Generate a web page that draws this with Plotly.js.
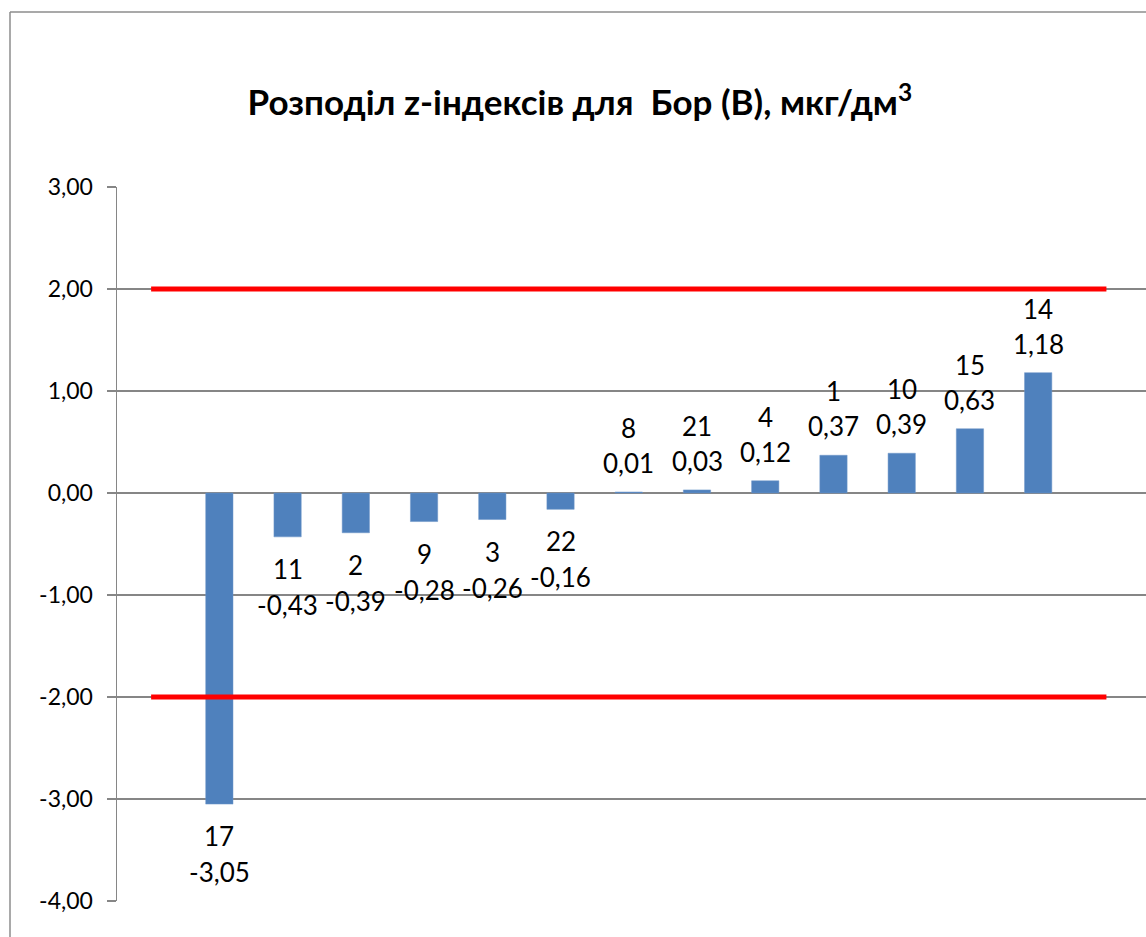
<!DOCTYPE html>
<html>
<head>
<meta charset="utf-8">
<script src="https://cdn.plot.ly/plotly-3.0.1.min.js"></script>
<style>html,body{margin:0;padding:0;background:#fff;}#chart{width:1146px;height:937px;}</style>
</head>
<body>
<div id="chart"></div>
<script>
const categories = ["17","11","2","9","3","22","8","21","4","1","10","15","14"];
const zValues = [-3.05,-0.43,-0.39,-0.28,-0.26,-0.16,0.01,0.03,0.12,0.37,0.39,0.63,1.18];
const upperLimit = 2;
const lowerLimit = -2;
const yTicks = [3,2,1,0,-1,-2,-3,-4];
const yTickLabels = ["3,00","2,00","1,00","0,00","-1,00","-2,00","-3,00","-4,00"];
const titleText = "Розподіл z-індексів для  Бор (В), мкг/дм<sup>3</sup>";

const fmt = v => v.toFixed(2).replace('.', ',');
const idx = categories.map((c,i)=>i);
const FONT = "Lato, 'Open Sans', sans-serif";

const traces = [
  {type:'bar', x: idx, y: zValues, width: 0.4,
   marker:{color:'#4f81bd', line:{color:'#6f97c9', width:0.5}},
   hoverinfo:'skip', showlegend:false},
  {type:'scatter', mode:'lines', x:[-1, categories.length], y:[upperLimit, upperLimit],
   line:{color:'#ff0000', width:5}, showlegend:false, hoverinfo:'skip'},
  {type:'scatter', mode:'lines', x:[-1, categories.length], y:[lowerLimit, lowerLimit],
   line:{color:'#ff0000', width:5}, showlegend:false, hoverinfo:'skip'}
];

const annotations = [];
zValues.forEach((v,i)=>{
  const pos = v >= 0;
  annotations.push({x:i, y:v, xref:'x', yref:'y', text: categories[i], showarrow:false,
    yanchor:'middle', yshift: pos ? 64 : -32, font:{family:FONT, size:26, color:'#000'}});
  annotations.push({x:i, y:v, xref:'x', yref:'y', text: fmt(v), showarrow:false,
    yanchor:'middle', yshift: pos ? 29 : -68, font:{family:FONT, size:26, color:'#000'}});
});

const layout = {
  width:1146, height:937,
  margin:{l:117, r:0, t:187, b:36},
  paper_bgcolor:'#fff', plot_bgcolor:'#fff',
  title:{text:titleText, x:0.506, xanchor:'center', y:0.89, yanchor:'middle',
    font:{family:FONT, size:35, color:'#000', weight:'bold'}},
  xaxis:{range:[-1.5, 13.58], showticklabels:false, ticks:'', showgrid:false,
    zeroline:false, showline:false, fixedrange:true},
  yaxis:{range:[-4, 3], tickvals:yTicks, ticktext:yTickLabels, ticks:'outside',
    ticklen:9, tickcolor:'#868686', tickwidth:1.5, showgrid:true, gridcolor:'#868686',
    gridwidth:1.5, zeroline:false, showline:true, linecolor:'#868686', linewidth:1.5,
    tickfont:{family:FONT, size:23, color:'#000'}, ticklabelstandoff:9, fixedrange:true},
  annotations: annotations,
  shapes:[
    {type:'line', xref:'paper', yref:'paper', x0:(10-117)/1029, x1:(1150-117)/1029,
     y0:(937-36-12)/714, y1:(937-36-12)/714, line:{color:'#8c8c8c', width:1.5}},
    {type:'line', xref:'paper', yref:'paper', x0:(10-117)/1029, x1:(10-117)/1029,
     y0:(937-36-12)/714, y1:-0.1, line:{color:'#8c8c8c', width:1.5}}
  ],
  showlegend:false
};

Plotly.newPlot('chart', traces, layout, {displayModeBar:false, staticPlot:true});
</script>
</body>
</html>
